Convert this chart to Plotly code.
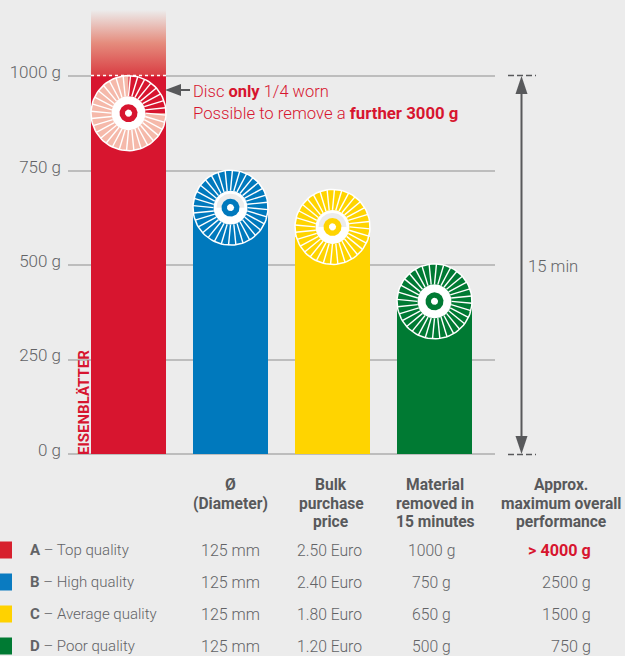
import numpy as np
import plotly.graph_objects as go

# ---- data ----
categories = ["A", "B", "C", "D"]
bar_values = [1000, 632, 574, 386]
disc_top_values = [1000, 750, 700, 503]
disc_center_values = [902, 652, 601, 404]
fade_top_value = 1175
y_ticks = [0, 250, 500, 750, 1000]
y_tick_labels = ["0 g", "250 g", "500 g", "750 g", "1000 g"]

quality_keys = ["A", "B", "C", "D"]
quality_names = [" – Top quality", " – High quality", " – Average quality", " – Poor quality"]
diameters = ["125 mm", "125 mm", "125 mm", "125 mm"]
prices = ["2.50 Euro", "2.40 Euro", "1.80 Euro", "1.20 Euro"]
removed = ["1000 g", "750 g", "650 g", "500 g"]
overall = ["<b>&gt; 4000 g</b>", "2500 g", "1500 g", "750 g"]
headers = [["Ø", "(Diameter)"], ["Bulk", "purchase", "price"], ["Material", "removed in", "15 minutes"],
           ["Approx.", "maximum overall", "performance"]]

# ---- styles ----
RED, BLUE, YELLOW, GREEN = "#d7152f", "#0079bd", "#ffd400", "#007a33"
colors = [RED, BLUE, YELLOW, GREEN]
swatches = ["#d7202e", "#0a7bc1", "#ffd200", "#007a33"]
BG = "#ececec"
GRID = "#bdbdbd"
DARK = "#58595b"
TXT = "#626366"
PINK = "#f5b9aa"
FONT = "Roboto"
BLADES = 32

# pixel geometry
L, R, T, B = 68, 495, 10, 454
W, H = 625, 656
px_x = 102.0                       # pixels per category
px_y = (B - T) / fade_top_value    # pixels per gram
xr = [(L - 128.5) / px_x, (R - 128.5) / px_x]


def fx(p):
    return (p - L) / (R - L)


def fy(p):
    return (B - p) / (B - T)


fig = go.Figure()

# fading part of the first bar
hw = 0.735 / 2
fig.add_trace(go.Scatter(
    x=[-hw, hw, hw, -hw, -hw], y=[1000, 1000, fade_top_value, fade_top_value, 1000],
    mode="lines", line=dict(width=0), fill="toself",
    fillgradient=dict(type="vertical",
                      colorscale=[[0, "rgba(217,60,66,1)"], [0.5, "rgba(229,140,125,1)"],
                                  [1, "rgba(236,236,236,1)"]]),
    hoverinfo="skip", showlegend=False))

# bars
fig.add_trace(go.Bar(x=list(range(4)), y=bar_values, width=0.735,
                     marker=dict(color=colors, line=dict(width=0)),
                     hoverinfo="skip", showlegend=False))


def ring(cx, cy, r, a0=0.0, a1=360.0, n=90):
    a = np.radians(np.linspace(a0, a1, n))
    return cx + r * np.sin(a) / px_x, cy + r * np.cos(a) / px_y


def add_fill(xs, ys, color):
    fig.add_trace(go.Scatter(x=xs, y=ys, mode="lines", line=dict(width=0), fill="toself",
                             fillcolor=color, hoverinfo="skip", showlegend=False))


hub_shaded = [False, True, True, False]
R_OUT, R_HUB, R_RING, R_HOLE = 37.5, 17.0, 9.0, 3.6

for i, (c, cv) in enumerate(zip(colors, disc_center_values)):
    # blade area
    xs, ys = ring(i, cv, R_OUT)
    add_fill(xs, ys, PINK if i == 0 else c)
    if i == 0:  # worn quarter keeps the bar colour
        xs, ys = ring(i, cv, R_OUT, 0, 90, 30)
        add_fill(np.r_[i, xs, i], np.r_[cv, ys, cv], c)
    # blade separators and rim
    lx, ly = [], []
    for k in range(BLADES):
        a = 2 * np.pi * k / BLADES
        b = a + np.radians(3.0)
        lx += [i + R_HUB * np.sin(a) / px_x, i + R_OUT * np.sin(b) / px_x, None]
        ly += [cv + R_HUB * np.cos(a) / px_y, cv + R_OUT * np.cos(b) / px_y, None]
    fig.add_trace(go.Scatter(x=lx, y=ly, mode="lines", line=dict(color="white", width=1.4),
                             hoverinfo="skip", showlegend=False))
    xs, ys = ring(i, cv, R_OUT)
    fig.add_trace(go.Scatter(x=xs, y=ys, mode="lines", line=dict(color="white", width=1.5),
                             hoverinfo="skip", showlegend=False))
    # hub
    xs, ys = ring(i, cv, R_HUB)
    add_fill(xs, ys, "white")
    if hub_shaded[i]:
        xs, ys = ring(i, cv, R_HUB - 3, -90, 90, 40)
        add_fill(xs, ys, BG)
    xs, ys = ring(i, cv, R_RING)
    add_fill(xs, ys, c)
    xs, ys = ring(i, cv, R_HOLE)
    add_fill(xs, ys, "white")

shapes = []


def hline(x0, x1, y, color, width, dash="solid", layer="above"):
    shapes.append(dict(type="line", xref="paper", yref="paper", x0=fx(x0), x1=fx(x1), y0=fy(y), y1=fy(y),
                       line=dict(color=color, width=width, dash=dash), layer=layer))


def tri(pts, color):
    path = "M" + " L".join(f"{fx(a)},{fy(b)}" for a, b in pts) + " Z"
    shapes.append(dict(type="path", xref="paper", yref="paper", path=path,
                       fillcolor=color, line=dict(width=0), layer="above"))


hline(68, 495, 454, GRID, 2, layer="below")            # baseline at 0 g
hline(91, 166, 75.5, "white", 1.3, "3px,3px")          # dashed mark on first bar
hline(508, 536, 75.5, DARK, 1.5, "6px,3px")
hline(508, 536, 454.5, DARK, 1.5, "6px,3px")

# 15-minute double arrow
shapes.append(dict(type="line", xref="paper", yref="paper", x0=fx(521.5), x1=fx(521.5), y0=fy(90), y1=fy(440),
                   line=dict(color=DARK, width=2), layer="above"))
tri([(521.5, 76), (515.5, 94), (527.5, 94)], DARK)
tri([(521.5, 454), (515.5, 436), (527.5, 436)], DARK)

# callout arrow
hline(178, 190, 90, DARK, 2)
tri([(165, 90), (181, 84), (181, 96)], DARK)

# legend swatches
row_y = [550, 582, 614, 646]
for col, ry in zip(swatches, row_y):
    shapes.append(dict(type="rect", xref="paper", yref="paper", x0=fx(0), x1=fx(12), y0=fy(ry - 8.5),
                       y1=fy(ry + 8.5), fillcolor=col, line=dict(width=0), layer="above"))

ann = []


def text(x, y, s, color=TXT, size=16, anchor="center", valign="middle", **kw):
    ann.append(dict(xref="paper", yref="paper", x=fx(x), y=fy(y), text=s, showarrow=False, xanchor=anchor,
                    yanchor=valign, font=dict(family=FONT, color=color, size=size, weight=kw.pop("weight", 300)),
                    **kw))


text(191, 91, "Disc <b>only</b> 1/4 worn", RED, 16.5, "left")
text(191, 113, "Possible to remove a <b>further 3000 g</b>", RED, 16.75, "left")
text(526, 266, "15 min", TXT, 16.7, "left")
text(84, 455, "<b>EISENBLÄTTER</b>", RED, 15, "center", "middle", textangle=-90, yshift=52)

centers = [230, 331, 435, 561]
for cx, lines in zip(centers, headers):
    for j, line in enumerate(lines):
        text(cx, 485 + 18.6 * j, line, DARK, 15.6, "center", "middle", weight=700)

for k, n, d, p, m, o, ry in zip(quality_keys, quality_names, diameters, prices, removed, overall, row_y):
    text(28, ry, f"<b>{k}</b>{n}", TXT, 15.0, "left")
    text(230, ry, d, TXT, 16)
    text(364, ry, p, TXT, 15.7, "right")
    text(431, ry, m, TXT, 15.7)
    text(593, ry, o, RED if o.startswith("<b>") else TXT, 16.2, "right")

fig.update_layout(
    width=W, height=H, margin=dict(l=L, r=W - R, t=T, b=H - B),
    paper_bgcolor=BG, plot_bgcolor=BG, showlegend=False, bargap=0,
    shapes=shapes, annotations=ann,
    xaxis=dict(range=xr, visible=False, fixedrange=True),
    yaxis=dict(range=[0, fade_top_value], tickvals=y_ticks, ticktext=y_tick_labels, showgrid=True,
               gridcolor=GRID, gridwidth=2, zeroline=False, showline=False, ticks="",
               ticklabelshift=-4, ticklabelstandoff=6, fixedrange=True,
               tickfont=dict(family=FONT, color=TXT, size=17, weight=300)),
    font=dict(family=FONT),
)
fig.write_html("out.html", config=dict(displayModeBar=False),
               post_script="document.body.style.margin='0';document.body.style.background='#ececec';")
